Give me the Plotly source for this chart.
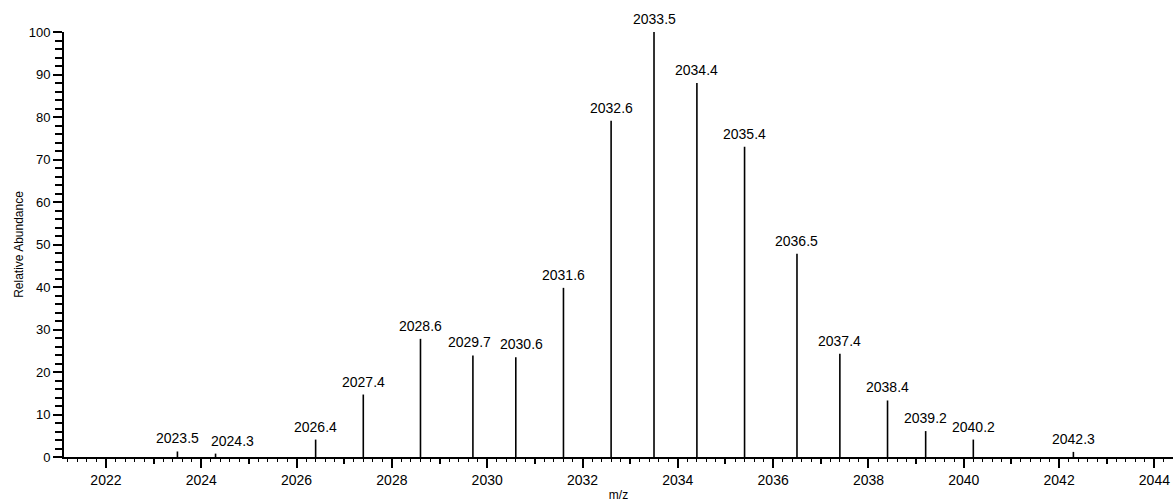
import plotly.graph_objects as go

# Centroided peaks of the isotope cluster (m/z, relative abundance %)
peak_mz = [2023.5, 2024.3, 2026.4, 2027.4, 2028.6, 2029.7, 2030.6, 2031.6, 2032.6,
           2033.5, 2034.4, 2035.4, 2036.5, 2037.4, 2038.4, 2039.2, 2040.2, 2042.3]
peak_abund = [1.3, 0.8, 4.1, 14.7, 27.8, 23.9, 23.5, 39.8, 79.1,
              100.0, 88.0, 73.0, 47.8, 24.3, 13.3, 6.1, 4.1, 1.2]

x_range = [2021.12, 2044.39]
y_range = [0, 100]

FONT = "Liberation Sans, Arial, sans-serif"

# Stick spectrum: one vertical segment per peak, separated by gaps
stem_x, stem_y = [], []
for mz, ab in zip(peak_mz, peak_abund):
    stem_x += [mz, mz, None]
    stem_y += [0, ab, None]

fig = go.Figure()
fig.add_trace(go.Scatter(
    x=stem_x, y=stem_y, mode="lines",
    line=dict(color="black", width=1.6),
    hoverinfo="skip", showlegend=False, cliponaxis=False,
))
# Invisible trace that carries the secondary (unit) tick axis
fig.add_trace(go.Scatter(
    x=x_range, y=[0, 0], xaxis="x2", mode="markers",
    marker=dict(opacity=0), hoverinfo="skip", showlegend=False,
))

# Peak labels; labels of crowded neighbouring peaks are nudged sideways
# (pixels) so the texts don't collide
label_nudge = {1: 17, 5: -3, 6: 6}
for i, (mz, ab) in enumerate(zip(peak_mz, peak_abund)):
    fig.add_annotation(
        x=mz, y=ab, text=f"{mz:.1f}", showarrow=False,
        yanchor="bottom", yshift=3, xshift=label_nudge.get(i, 0),
        font=dict(family=FONT, size=14, color="black"),
    )

fig.update_layout(
    width=1173, height=502,
    margin=dict(l=64, r=0, t=32, b=45),
    paper_bgcolor="white", plot_bgcolor="white",
    font=dict(family=FONT, size=14, color="black"),
    xaxis=dict(
        range=x_range, tick0=2022, dtick=2,
        showgrid=False, zeroline=False,
        showline=True, linecolor="black", linewidth=2,
        ticks="outside", ticklen=9, tickwidth=2, tickcolor="black",
        minor=dict(dtick=0.2, tick0=2022, ticks="outside", ticklen=3,
                   tickwidth=1, tickcolor="black", showgrid=False),
        tickfont=dict(family=FONT, size=14, color="black"),
        title=dict(text="m/z", standoff=6,
                   font=dict(family=FONT, size=12, color="black")),
    ),
    xaxis2=dict(
        range=x_range, overlaying="x", side="bottom", anchor="y",
        tick0=2021, dtick=2, showticklabels=False,
        showgrid=False, zeroline=False, showline=False,
        ticks="outside", ticklen=6, tickwidth=1.5, tickcolor="black",
    ),
    yaxis=dict(
        range=y_range, dtick=10,
        showgrid=False, zeroline=False,
        showline=True, linecolor="black", linewidth=2,
        ticks="outside", ticklen=9, tickwidth=2, tickcolor="black",
        minor=dict(dtick=2, ticks="outside", ticklen=7, tickwidth=1.5,
                   tickcolor="black", showgrid=False),
        tickfont=dict(family=FONT, size=13, color="black"),
        title=dict(text="Relative Abundance", standoff=2,
                   font=dict(family=FONT, size=12, color="black")),
    ),
)

fig.write_html("out.html")
